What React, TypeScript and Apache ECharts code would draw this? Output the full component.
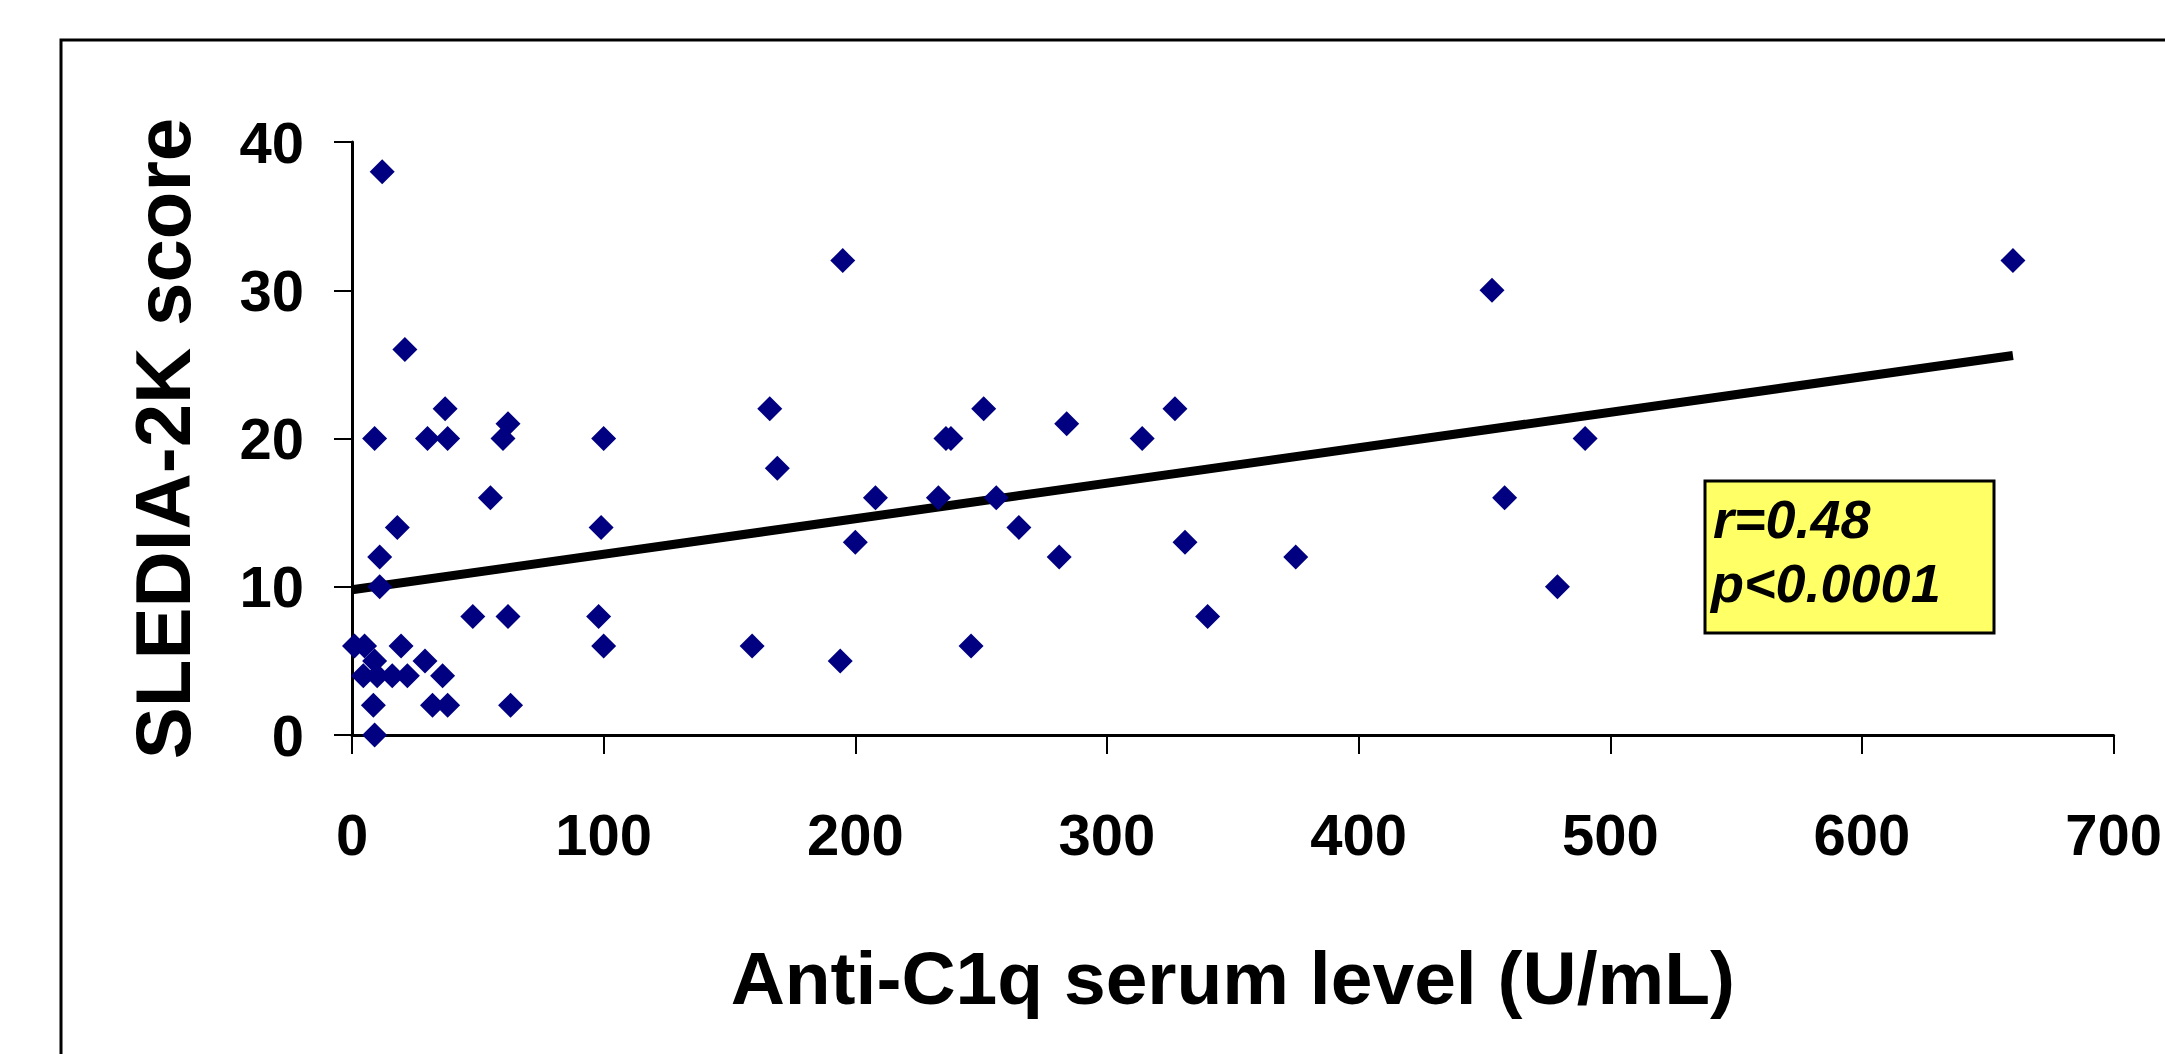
import React, { useEffect, useRef } from "react";
import * as echarts from "echarts";

// Anti-C1q serum level (U/mL)
const antiC1q = [
  1, 5, 9, 19.5, 29, 36, 4.5, 10, 16, 22, 8.5, 32, 38, 63, 9,
  12, 21, 37, 9, 30, 38, 62, 60, 100, 55, 18, 99, 11, 11, 48, 62, 98, 100,
  195, 166, 169, 208, 233, 256, 236, 238, 251, 284, 265, 281, 200, 159, 194, 246,
  453, 314, 327, 331, 375, 340, 458, 660, 490, 479,
];
// SLEDIA-2K score
const sledai = [
  6, 6, 5, 6, 5, 4, 4, 4, 4, 4, 2, 2, 2, 2, 0,
  38, 26, 22, 20, 20, 20, 21, 20, 20, 16, 14, 14, 12, 10, 8, 8, 8, 6,
  32, 22, 18, 16, 16, 16, 20, 20, 22, 21, 14, 12, 13, 6, 5, 6,
  30, 20, 22, 13, 12, 8, 16, 32, 20, 10,
];
// Linear trend line end points
const trendX = [0, 660];
const trendY = [9.8, 25.6];

const xTicks = [0, 100, 200, 300, 400, 500, 600, 700];
const yTicks = [0, 10, 20, 30, 40];

const statsLines = ["r=0.48", "p<0.0001"];

const FONT = '"Liberation Sans", Arial, sans-serif';

export default function App() {
  const ref = useRef<HTMLDivElement>(null);

  useEffect(() => {
    document.body.style.margin = "0";
    if (!ref.current) return;
    const chart = echarts.init(ref.current, null, { renderer: "svg" });
    const points = antiC1q.map((x, i) => [x, sledai[i]]);
    const trend = trendX.map((x, i) => [x, trendY[i]]);
    chart.setOption({
      animation: false,
      backgroundColor: "#ffffff",
      grid: { left: 352, right: 50, top: 142, bottom: 319, containLabel: false },
      xAxis: {
        type: "value",
        min: xTicks[0],
        max: xTicks[xTicks.length - 1],
        interval: 100,
        name: "Anti-C1q serum level (U/mL)",
        nameLocation: "middle",
        nameGap: 205,
        nameTextStyle: { fontFamily: FONT, fontWeight: "bold", fontSize: 75, color: "#000" },
        axisLine: { show: true, onZero: false, lineStyle: { color: "#000", width: 3 } },
        axisTick: { show: true, inside: false, length: 19, lineStyle: { color: "#000", width: 2 } },
        axisLabel: { margin: 70, fontFamily: FONT, fontWeight: "bold", fontSize: 58, color: "#000" },
        splitLine: { show: false },
      },
      yAxis: {
        type: "value",
        min: yTicks[0],
        max: yTicks[yTicks.length - 1],
        interval: 10,
        name: "SLEDIA-2K score",
        nameLocation: "middle",
        nameGap: 150,
        nameRotate: 90,
        nameTextStyle: { fontFamily: FONT, fontWeight: "bold", fontSize: 78, color: "#000" },
        axisLine: { show: true, onZero: false, lineStyle: { color: "#000", width: 3 } },
        axisTick: { show: true, inside: false, length: 18, lineStyle: { color: "#000", width: 2 } },
        axisLabel: { margin: 48, fontFamily: FONT, fontWeight: "bold", fontSize: 58, color: "#000" },
        splitLine: { show: false },
      },
      series: [
        {
          type: "line",
          data: trend,
          symbol: "none",
          lineStyle: { color: "#000", width: 9 },
          z: 1,
        },
        {
          type: "scatter",
          data: points,
          symbol: "diamond",
          symbolSize: 25,
          itemStyle: { color: "#000080", opacity: 1 },
          z: 2,
        },
      ],
      graphic: [
        {
          type: "rect",
          shape: { x: 61, y: 40, width: 2200, height: 1100 },
          style: { fill: "none", stroke: "#000", lineWidth: 3 },
          silent: true,
          z: 0,
        },
        {
          type: "rect",
          shape: { x: 1705, y: 481, width: 289, height: 152 },
          style: { fill: "#FFFF66", stroke: "#000", lineWidth: 3 },
          z: 10,
        },
        {
          type: "text",
          x: 1713,
          y: 519,
          style: {
            text: statsLines[0],
            font: `italic bold 54px ${FONT}`,
            fill: "#000",
            textVerticalAlign: "middle",
            verticalAlign: "middle",
          },
          z: 11,
        },
        {
          type: "text",
          x: 1711,
          y: 583,
          style: {
            text: statsLines[1],
            font: `italic bold 54px ${FONT}`,
            fill: "#000",
            textVerticalAlign: "middle",
            verticalAlign: "middle",
          },
          z: 11,
        },
      ],
    });
    return () => chart.dispose();
  }, []);

  return <div ref={ref} style={{ width: 2165, height: 1054 }} />;
}
